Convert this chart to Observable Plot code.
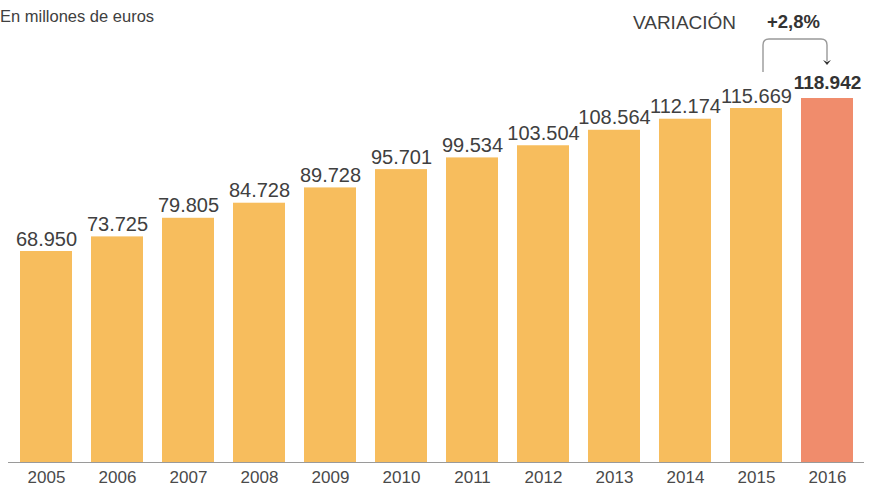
<!DOCTYPE html>
<html>
<head>
<meta charset="utf-8">
<script src="https://cdn.jsdelivr.net/npm/d3@7"></script>
<script src="https://cdn.jsdelivr.net/npm/@observablehq/plot@0.6"></script>
<style>
  body { margin: 0; background: #fff; font-family: "Liberation Sans", Arial, sans-serif; }
  #wrap { position: relative; width: 876px; height: 486px; }
  #sub { position: absolute; left: 0; top: 7px; font-size: 16.5px; color: #404040; }
</style>
</head>
<body>
<div id="wrap"><div id="sub">En millones de euros</div><div id="chart"></div></div>
<script>
const years = ["2005","2006","2007","2008","2009","2010","2011","2012","2013","2014","2015","2016"];
const values = [68950, 73725, 79805, 84728, 89728, 95701, 99534, 103504, 108564, 112174, 115669, 118942];
const valueLabels = ["68.950","73.725","79.805","84.728","89.728","95.701","99.534","103.504","108.564","112.174","115.669","118.942"];
const variationLabel = "VARIACIÓN";
const variationValue = "+2,8%";
const highlightYear = "2016";

const data = years.map((y, i) => ({year: y, value: values[i], label: valueLabels[i], hl: y === highlightYear}));
const values_max = d3.max(values);

const bracket = (index, scales) => {
  const x = scales.x, y = scales.y;
  const bw = x.bandwidth ? x.bandwidth() : 52;
  const xa = x("2015") + bw / 2 + 7;
  const xb = x("2016") + bw / 2;
  const yTop = y(values_max) - 59;
  const yA = y(values_max) - 26;
  const yB = y(values_max) - 37;
  const r = 6;
  const g = d3.create("svg:g");
  g.append("path")
    .attr("d", `M${xa},${yA} V${yTop + r} Q${xa},${yTop} ${xa + r},${yTop} H${xb - r} Q${xb},${yTop} ${xb},${yTop + r} V${yB}`)
    .attr("fill", "none").attr("stroke", "#999").attr("stroke-width", 1.4);
  g.append("path")
    .attr("d", `M${xb - 4},${yB - 1} L${xb},${yB + 1} L${xb + 4},${yB - 1} L${xb},${yB + 4} Z`)
    .attr("fill", "#333");
  return g.node();
};

const chart = Plot.plot({
  width: 876,
  height: 486,
  marginLeft: 8,
  marginRight: 12,
  marginTop: 40,
  marginBottom: 24,
  style: {fontFamily: "Liberation Sans, Arial, sans-serif", background: "transparent"},
  x: {domain: years, paddingInner: 0.27, paddingOuter: 0.135, label: null, axis: null},
  y: {domain: [0, 137900], axis: null},
  marks: [
    Plot.barY(data, {x: "year", y: "value", fill: d => d.hl ? "#F08C6C" : "#F7BD5D"}),
    Plot.ruleY([0], {stroke: "#9a9a9a", strokeWidth: 1}),
    Plot.axisX({tickSize: 0, tickPadding: 8, fontSize: 17, color: "#4a4a4a", label: null}),
    Plot.text(data.filter(d => !d.hl), {x: "year", y: "value", text: "label", dy: -6, lineAnchor: "bottom", fontSize: 20, fill: "#404040"}),
    Plot.text(data.filter(d => d.hl), {x: "year", y: "value", text: "label", dy: -10, lineAnchor: "bottom", fontSize: 19, fontWeight: "bold", fill: "#333"}),
    Plot.text([variationLabel], {frameAnchor: "top-right", text: d => d, textAnchor: "middle", lineAnchor: "middle", dx: -180, dy: -18, fontSize: 19, fill: "#404040"}),
    Plot.text([variationValue], {frameAnchor: "top-right", text: d => d, textAnchor: "middle", lineAnchor: "middle", dx: -71, dy: -18, fontSize: 18.5, fontWeight: "bold", fill: "#333"}),
    bracket
  ]
});
document.getElementById("chart").appendChild(chart);
</script>
</body>
</html>
